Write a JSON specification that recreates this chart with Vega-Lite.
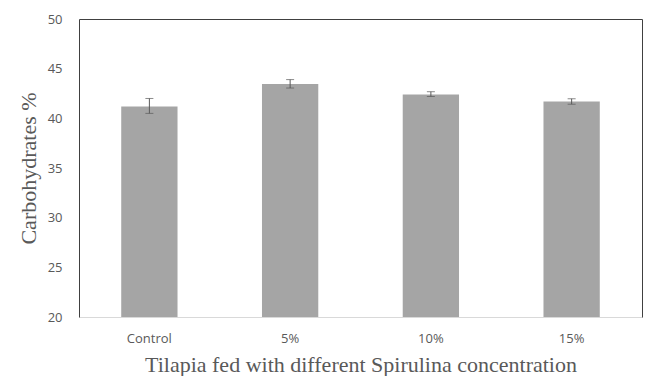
{
  "$schema": "https://vega.github.io/schema/vega-lite/v6.json",
  "width": 563,
  "height": 298,
  "autosize": {"type": "none"},
  "padding": {"left": 79, "top": 19, "right": 4, "bottom": 59},
  "background": "white",
  "config": {
    "view": {"stroke": null},
    "axis": {"grid": false, "ticks": false, "labelFont": "Open Sans", "labelFontSize": 13, "labelColor": "#595959", "titleFont": "Liberation Serif", "titleFontSize": 22, "titleFontWeight": "normal", "titleColor": "#595959"}
  },
  "data": {
    "values": [
      {"group": "Control", "mean": 41.2, "lo": 40.5, "hi": 42.0},
      {"group": "5%", "mean": 43.45, "lo": 43.05, "hi": 43.9},
      {"group": "10%", "mean": 42.4, "lo": 42.2, "hi": 42.68},
      {"group": "15%", "mean": 41.7, "lo": 41.42, "hi": 41.97}
    ]
  },
  "resolve": {"axis": {"x": "independent", "y": "independent"}},
  "layer": [
    {
      "mark": {"type": "bar", "color": "#a5a5a5", "clip": true},
      "encoding": {
        "x": {"field": "group", "type": "nominal", "sort": null,
              "scale": {"paddingInner": 0.6, "paddingOuter": 0.3},
              "axis": {"orient": "bottom", "labelAngle": 0, "labelPadding": 15, "domainColor": "#d9d9d9", "title": "Tilapia fed with different Spirulina concentration", "titlePadding": 9}},
        "y": {"field": "mean", "type": "quantitative",
              "scale": {"domain": [20, 50], "nice": false, "zero": false},
              "axis": {"orient": "left", "values": [20, 25, 30, 35, 40, 45, 50], "labelPadding": 17, "domainColor": "#404040", "title": "Carbohydrates %", "titlePadding": 7}}
      }
    },
    {
      "mark": {"type": "rule", "color": "#595959", "strokeWidth": 1},
      "encoding": {
        "x": {"field": "group", "type": "nominal", "sort": null,
              "axis": {"orient": "top", "labels": false, "title": null, "domainColor": "#404040"}},
        "y": {"field": "lo", "type": "quantitative",
              "axis": {"orient": "right", "labels": false, "title": null, "domainColor": "#404040"}},
        "y2": {"field": "hi"}
      }
    },
    {
      "mark": {"type": "tick", "color": "#595959", "size": 8, "thickness": 1},
      "encoding": {
        "x": {"field": "group", "type": "nominal", "sort": null, "axis": null},
        "y": {"field": "lo", "type": "quantitative", "axis": null}
      }
    },
    {
      "mark": {"type": "tick", "color": "#595959", "size": 8, "thickness": 1},
      "encoding": {
        "x": {"field": "group", "type": "nominal", "sort": null, "axis": null},
        "y": {"field": "hi", "type": "quantitative", "axis": null}
      }
    }
  ]
}
